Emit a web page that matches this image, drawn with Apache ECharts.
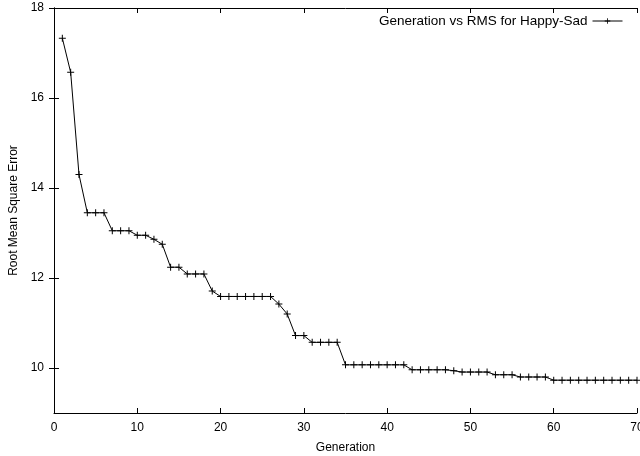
<!DOCTYPE html>
<html>
<head>
<meta charset="utf-8">
<script src="https://cdn.jsdelivr.net/npm/echarts@6/dist/echarts.min.js"></script>
<style>
  html, body { margin: 0; padding: 0; background: #fff; }
  #chart { width: 640px; height: 456px; }
</style>
</head>
<body>
<div id="chart"></div>
<script>
// Generation number of each run
const generations = [
  1, 2, 3, 4, 5, 6, 7, 8, 9, 10,
  11, 12, 13, 14, 15, 16, 17, 18, 19, 20,
  21, 22, 23, 24, 25, 26, 27, 28, 29, 30,
  31, 32, 33, 34, 35, 36, 37, 38, 39, 40,
  41, 42, 43, 44, 45, 46, 47, 48, 49, 50,
  51, 52, 53, 54, 55, 56, 57, 58, 59, 60,
  61, 62, 63, 64, 65, 66, 67, 68, 69, 70
];

// Best root mean square error found at each generation
const rmsValues = [
  17.33, 16.57, 14.30, 13.45, 13.45, 13.45, 13.05, 13.05, 13.05, 12.95,
  12.95, 12.86, 12.75, 12.24, 12.24, 12.09, 12.09, 12.09, 11.71, 11.59,
  11.59, 11.59, 11.59, 11.59, 11.59, 11.59, 11.42, 11.20, 10.72, 10.72,
  10.57, 10.57, 10.57, 10.57, 10.07, 10.07, 10.07, 10.07, 10.07, 10.07,
  10.07, 10.07, 9.96, 9.96, 9.96, 9.96, 9.96, 9.94, 9.91, 9.91,
  9.91, 9.91, 9.85, 9.85, 9.85, 9.80, 9.80, 9.80, 9.80, 9.73,
  9.73, 9.73, 9.73, 9.73, 9.73, 9.73, 9.73, 9.73, 9.73, 9.73
];

const xTicks = [0, 10, 20, 30, 40, 50, 60, 70];
const yTicks = [10, 12, 14, 16, 18];

const seriesName = 'Generation vs RMS for Happy-Sad';
const xTitle = 'Generation';
const yTitle = 'Root Mean Square Error';

const FONT = '"Liberation Sans", Arial, Helvetica, sans-serif';
const plusSymbol = 'path://M0,3L7,3L7,4L0,4Z M3,0L4,0L4,7L3,7Z';

const points = generations.map((g, i) => [g, rmsValues[i]]);

const frameLine = { show: true, lineStyle: { color: '#000', width: 1 } };
const innerTick = { show: true, inside: true, length: 5, lineStyle: { color: '#000', width: 1 } };

const chart = echarts.init(document.getElementById('chart'), null, { renderer: 'canvas' });

chart.setOption({
  animation: false,
  backgroundColor: '#fff',
  textStyle: { fontFamily: FONT },
  grid: { left: 54, right: 3, top: 8, bottom: 43, containLabel: false, outerBoundsMode: 'none' },
  legend: {
    data: [seriesName],
    right: 12,
    top: 9,
    padding: 5,
    align: 'right',
    itemWidth: 30,
    itemHeight: 7,
    lineStyle: { width: 1, color: '#000' },
    textStyle: { fontFamily: FONT, fontSize: 13.5, color: '#000' }
  },
  xAxis: [
    {
      type: 'value', position: 'bottom', min: 0, max: 70, interval: 10,
      axisLine: frameLine,
      axisTick: Object.assign({ customValues: xTicks }, innerTick),
      axisLabel: { customValues: xTicks, margin: 9, fontFamily: FONT, fontSize: 12, color: '#000' },
      splitLine: { show: false },
      name: xTitle, nameLocation: 'middle', nameGap: 29,
      nameTextStyle: { fontFamily: FONT, fontSize: 12, color: '#000' }
    },
    {
      type: 'value', position: 'top', min: 0, max: 70, interval: 10,
      axisLine: frameLine,
      axisTick: Object.assign({ customValues: xTicks }, innerTick),
      axisLabel: { show: false },
      splitLine: { show: false }
    }
  ],
  yAxis: [
    {
      type: 'value', position: 'left', min: 9, max: 18,
      axisLine: frameLine,
      axisTick: Object.assign({ customValues: yTicks }, innerTick),
      axisLabel: { customValues: yTicks, margin: 10, fontFamily: FONT, fontSize: 12, color: '#000' },
      splitLine: { show: false },
      name: yTitle, nameLocation: 'middle', nameGap: 31, nameRotate: 90,
      nameTextStyle: { fontFamily: FONT, fontSize: 12, color: '#000' }
    },
    {
      type: 'value', position: 'right', min: 9, max: 18,
      axisLine: frameLine,
      axisTick: Object.assign({ customValues: yTicks }, innerTick),
      axisLabel: { show: false },
      splitLine: { show: false }
    }
  ],
  series: [
    {
      name: seriesName,
      type: 'line',
      xAxisIndex: 0,
      yAxisIndex: 0,
      data: points,
      symbol: plusSymbol,
      symbolSize: 7,
      showAllSymbol: true,
      lineStyle: { color: '#000', width: 1 },
      itemStyle: { color: '#000' },
      clip: false
    }
  ]
});
</script>
</body>
</html>
